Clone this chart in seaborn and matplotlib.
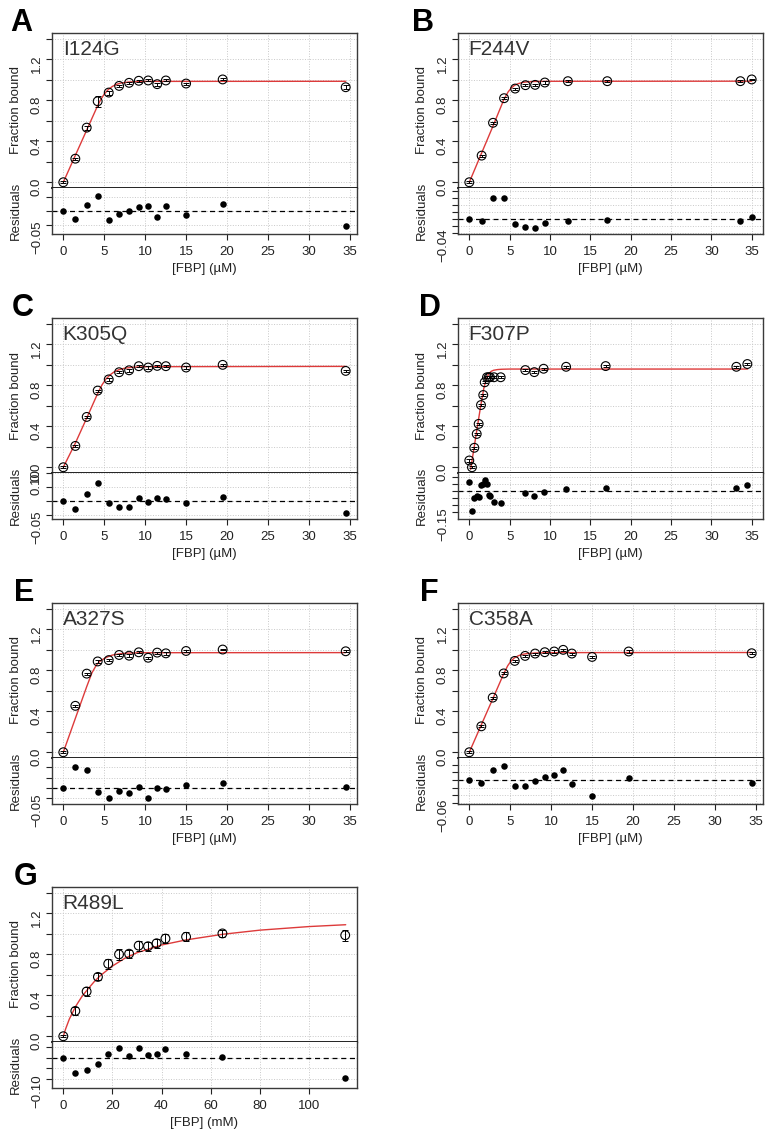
import matplotlib
matplotlib.use("Agg")
import matplotlib.pyplot as plt
import seaborn as sns
from matplotlib.ticker import MultipleLocator, FuncFormatter

# ---- values ---------------------------------------------------------------

# FBP dilution series shared by most of the uM titrations
conc_std = [0, 1.47, 2.86, 4.2, 5.55, 6.82, 8.04, 9.22, 10.37, 11.47, 12.53, 15.0, 19.47, 34.5]

# A  I124G
a_frac = [0, 0.23, 0.533, 0.79, 0.875, 0.94, 0.97, 0.99, 0.993, 0.957, 0.993, 0.963, 1.003, 0.927]
a_err = [0.008, 0.01, 0.02, 0.055, 0.02, 0.01, 0.01, 0.01, 0.01, 0.015, 0.01, 0.01, 0.01, 0.02]
a_resid = [0, -0.029, 0.023, 0.055, -0.031, -0.011, 0.001, 0.015, 0.018, -0.020, 0.017, -0.013, 0.024, -0.055]
a_fit_x = [0, 1.47, 2.86, 4.2, 4.6, 5.0, 5.5, 6.0, 6.5, 7.0, 8.0, 10.0, 34.5]
a_fit_y = [0, 0.262, 0.509, 0.748, 0.81, 0.86, 0.905, 0.935, 0.955, 0.967, 0.978, 0.984, 0.985]

# B  F244V
b_conc = [0, 1.53, 2.94, 4.31, 5.68, 6.96, 8.16, 9.36, 12.22, 17.1, 33.6, 35.0]
b_frac = [0, 0.26, 0.58, 0.82, 0.914, 0.947, 0.95, 0.973, 0.986, 0.986, 0.986, 1.003]
b_err = [0.008, 0.01, 0.01, 0.01, 0.01, 0.01, 0.01, 0.01, 0.01, 0.01, 0.01, 0.008]
b_resid = [0, -0.004, 0.061, 0.061, -0.014, -0.023, -0.027, -0.012, -0.005, -0.002, -0.005, 0.007]
b_fit_x = [0, 1.5, 3.0, 4.3, 4.8, 5.2, 5.6, 6.0, 6.5, 7.0, 8.0, 10.0, 35.0]
b_fit_y = [0, 0.28, 0.56, 0.81, 0.88, 0.92, 0.945, 0.96, 0.972, 0.978, 0.983, 0.985, 0.986]

# C  K305Q
c_frac = [0, 0.208, 0.491, 0.748, 0.857, 0.927, 0.946, 0.986, 0.973, 0.989, 0.986, 0.973, 0.999, 0.94]
c_err = [0.008, 0.012, 0.012, 0.01, 0.012, 0.01, 0.012, 0.01, 0.01, 0.01, 0.01, 0.01, 0.01, 0.012]
c_resid = [0, -0.027, 0.026, 0.067, -0.007, -0.020, -0.020, 0.011, -0.004, 0.013, 0.007, -0.007, 0.017, -0.042]
c_fit_x = [0, 1.47, 2.86, 4.2, 4.7, 5.2, 5.7, 6.2, 6.8, 7.5, 8.5, 10.0, 34.5]
c_fit_y = [0, 0.235, 0.48, 0.72, 0.8, 0.86, 0.9, 0.93, 0.952, 0.966, 0.976, 0.981, 0.984]

# D  F307P
d_conc = [0, 0.33, 0.62, 0.92, 1.16, 1.45, 1.73, 1.91, 2.19, 2.40, 2.56, 3.06, 3.89,
          6.94, 8.06, 9.21, 12.0, 16.9, 33.1, 34.46]
d_frac = [0.066, 0.0, 0.19, 0.325, 0.423, 0.607, 0.705, 0.829, 0.878, 0.878, 0.878, 0.878, 0.878,
          0.948, 0.928, 0.961, 0.98, 0.987, 0.98, 1.007]
d_err = [0.01, 0.01, 0.01, 0.01, 0.01, 0.01, 0.01, 0.01, 0.01, 0.01, 0.01, 0.01, 0.01,
         0.012, 0.01, 0.01, 0.01, 0.01, 0.01, 0.008]
d_resid = [0.066, -0.138, -0.048, -0.031, -0.038, 0.048, 0.055, 0.083, 0.052, -0.024, -0.034, -0.074, -0.081,
           -0.012, -0.036, -0.002, 0.019, 0.026, 0.021, 0.045]
d_fit_x = [0.17, 0.5, 1.0, 1.43, 1.8, 2.1, 2.4, 2.7, 3.0, 3.5, 4.0, 5.0, 34.5]
d_fit_y = [-0.02, 0.145, 0.395, 0.607, 0.77, 0.86, 0.91, 0.935, 0.946, 0.953, 0.956, 0.958, 0.958]

# E  A327S
e_frac = [0, 0.453, 0.767, 0.886, 0.899, 0.949, 0.942, 0.975, 0.922, 0.972, 0.965, 0.988, 1.002, 0.985]
e_err = [0.008, 0.012, 0.01, 0.012, 0.01, 0.01, 0.012, 0.01, 0.012, 0.01, 0.012, 0.01, 0.008, 0.01]
e_resid = [0, 0.10, 0.087, -0.018, -0.05, -0.013, -0.023, 0.005, -0.05, 0, -0.003, 0.013, 0.023, 0.005]
e_fit_x = [0, 1.47, 2.86, 3.5, 4.0, 4.4, 4.9, 5.4, 6.0, 7.0, 8.0, 10.0, 34.5]
e_fit_y = [0, 0.33, 0.64, 0.775, 0.845, 0.883, 0.91, 0.93, 0.948, 0.962, 0.968, 0.971, 0.972]

# F  C358A
f_frac = [0, 0.253, 0.533, 0.769, 0.891, 0.94, 0.963, 0.976, 0.983, 0.999, 0.963, 0.93, 0.983, 0.966]
f_err = [0.008, 0.01, 0.01, 0.01, 0.01, 0.01, 0.01, 0.01, 0.01, 0.01, 0.01, 0.01, 0.01, 0.01]
f_resid = [0, -0.007, 0.025, 0.037, -0.016, -0.016, -0.003, 0.007, 0.012, 0.025, -0.012, -0.042, 0.006, -0.008]
f_fit_x = [0, 1.47, 2.86, 4.2, 4.7, 5.1, 5.5, 6.0, 6.5, 7.0, 8.0, 10.0, 34.5]
f_fit_y = [0, 0.268, 0.52, 0.765, 0.845, 0.89, 0.92, 0.942, 0.955, 0.962, 0.968, 0.972, 0.973]

# G  R489L (mM)
g_conc = [0, 4.9, 9.5, 14.1, 18.3, 22.7, 26.8, 30.7, 34.5, 38.0, 41.6, 50.0, 64.8, 114.8]
g_frac = [0, 0.247, 0.437, 0.579, 0.707, 0.799, 0.805, 0.884, 0.878, 0.907, 0.953, 0.97, 1.003, 0.986]
g_err = [0.01, 0.035, 0.04, 0.035, 0.05, 0.055, 0.04, 0.05, 0.045, 0.045, 0.045, 0.045, 0.035, 0.055]
g_resid = [0, -0.071, -0.058, -0.031, 0.018, 0.048, 0.01, 0.047, 0.013, 0.019, 0.04, 0.016, 0.002, -0.098]
g_fit_x = [0, 1, 2.5, 5, 7.5, 10, 12.5, 15, 20, 25, 30, 40, 50, 65, 80, 100, 115]
g_fit_y = [0, 0.075, 0.17, 0.29, 0.385, 0.46, 0.53, 0.59, 0.685, 0.76, 0.815, 0.89, 0.94, 0.995,
           1.035, 1.07, 1.088]

panel_letters = ["A", "B", "C", "D", "E", "F", "G"]
mutants = ["I124G", "F244V", "K305Q", "F307P", "A327S", "C358A", "R489L"]
units = ["µM", "µM", "µM", "µM", "µM", "µM", "mM"]

# ---- layout ----------------------------------------------------------------
W, H = 776, 1129
RED = "#dd3a3a"
FRAME = "#3a3a3a"
TXT = "#222222"

sns.set_style("ticks")
plt.rcParams["font.family"] = ["Liberation Sans", "DejaVu Sans"]
plt.rcParams["axes.unicode_minus"] = False

panels = [
    dict(conc=conc_std, frac=a_frac, err=a_err, resid=a_resid, fx=a_fit_x, fy=a_fit_y,
         col=0, row=0, xlim=(-1.38, 35.88), xstep=5,
         rlim=(-0.082, 0.082), rstep=0.05, rlabels=[-0.05], lx=10),
    dict(conc=b_conc, frac=b_frac, err=b_err, resid=b_resid, fx=b_fit_x, fy=b_fit_y,
         col=1, row=0, xlim=(-1.4, 36.4), xstep=5,
         rlim=(-0.043, 0.090), rstep=0.02, rlabels=[-0.04], lx=412),
    dict(conc=conc_std, frac=c_frac, err=c_err, resid=c_resid, fx=c_fit_x, fy=c_fit_y,
         col=0, row=1, xlim=(-1.38, 35.88), xstep=5,
         rlim=(-0.063, 0.101), rstep=0.05, rlabels=[-0.05, 0.10], lx=12),
    dict(conc=d_conc, frac=d_frac, err=d_err, resid=d_resid, fx=d_fit_x, fy=d_fit_y,
         col=1, row=1, xlim=(-1.4, 36.4), xstep=5,
         rlim=(-0.198, 0.131), rstep=0.05, rlabels=[-0.15], lx=419),
    dict(conc=conc_std, frac=e_frac, err=e_err, resid=e_resid, fx=e_fit_x, fy=e_fit_y,
         col=0, row=2, xlim=(-1.38, 35.88), xstep=5,
         rlim=(-0.078, 0.145), rstep=0.05, rlabels=[-0.05], lx=14),
    dict(conc=conc_std, frac=f_frac, err=f_err, resid=f_resid, fx=f_fit_x, fy=f_fit_y,
         col=1, row=2, xlim=(-1.38, 35.88), xstep=5,
         rlim=(-0.063, 0.057), rstep=0.02, rlabels=[-0.06], lx=420),
    dict(conc=g_conc, frac=g_frac, err=g_err, resid=g_resid, fx=g_fit_x, fy=g_fit_y,
         col=0, row=3, xlim=(-4.6, 119.6), xstep=20,
         rlim=(-0.145, 0.076), rstep=0.05, rlabels=[-0.10], lx=14),
]

col_x = [52, 458]
row_top = [33, 318, 603, 887]
AX_W, MAIN_H, RES_H = 305, 155, 46

fig = plt.figure(figsize=(W / 100, H / 100), dpi=100)


def px_axes(x0, y0, w, h):
    return fig.add_axes([x0 / W, 1 - (y0 + h) / H, w / W, h / H])


def main_fmt(v, pos):
    k = int(round(v * 10))
    return f"{v:.1f}" if k % 4 == 0 else ""


def resid_fmt_for(shown):
    def f(v, pos):
        for s in shown:
            if abs(v - s) < 1e-6:
                return f"{s:.2f}".replace("-", "\u2212")
        return ""
    return f


for i, p in enumerate(panels):
    x0 = col_x[p["col"]]
    top = row_top[p["row"]]
    ax = px_axes(x0, top, AX_W, MAIN_H)
    rax = px_axes(x0, top + MAIN_H, AX_W, RES_H)

    # --- main binding plot
    ax.errorbar(p["conc"], p["frac"], yerr=p["err"], fmt="none", ecolor="black",
                elinewidth=0.7, capsize=2.3, capthick=0.7, zorder=3)
    sns.lineplot(x=p["fx"], y=p["fy"], ax=ax, color=RED, lw=1.0, sort=False,
                 estimator=None, zorder=2)
    sns.scatterplot(x=p["conc"], y=p["frac"], ax=ax, marker="o", s=40,
                    facecolor="none", edgecolor="black", linewidth=0.8, zorder=4)
    ax.set_xlim(*p["xlim"])
    ax.set_ylim(-0.056, 1.456)
    ax.xaxis.set_major_locator(MultipleLocator(p["xstep"]))
    ax.yaxis.set_major_locator(MultipleLocator(0.2))
    ax.yaxis.set_major_formatter(FuncFormatter(main_fmt))
    ax.tick_params(axis="x", bottom=False, labelbottom=False)
    ax.tick_params(axis="y", length=4, width=0.8, pad=2.5, labelsize=9.5,
                   labelrotation=90, colors=TXT)
    ax.grid(True, linestyle=":", color="#c8c8c8", lw=0.7)
    ax.set_axisbelow(True)
    for side in ["left", "right", "top"]:
        ax.spines[side].set_color(FRAME)
        ax.spines[side].set_linewidth(1.0)
    ax.spines["bottom"].set_color("#111111")
    ax.spines["bottom"].set_linewidth(1.3)
    ax.set_ylabel("Fraction bound", fontsize=9.5, color=TXT)
    ax.yaxis.set_label_coords(-0.098, 0.5)
    ax.set_xlabel("")
    ax.text(0.035, 0.955, mutants[i], transform=ax.transAxes, ha="left", va="top",
            fontsize=15, color="#333333")

    # --- residuals
    rax.axhline(0, color="black", lw=0.9, ls=(0, (4, 3)), zorder=2)
    sns.scatterplot(x=p["conc"], y=p["resid"], ax=rax, marker="o", s=22,
                    color="black", edgecolor="black", linewidth=0, zorder=3)
    rax.set_xlim(*p["xlim"])
    rax.set_ylim(*p["rlim"])
    rax.xaxis.set_major_locator(MultipleLocator(p["xstep"]))
    rax.yaxis.set_major_locator(MultipleLocator(p["rstep"]))
    rax.yaxis.set_major_formatter(FuncFormatter(resid_fmt_for(p["rlabels"])))
    rax.tick_params(axis="y", length=4, width=0.8, pad=2.5, labelsize=9.5,
                    labelrotation=90, colors=TXT)
    rax.tick_params(axis="x", length=4, width=0.8, pad=4.5, labelsize=9.5, colors=TXT)
    rax.grid(True, linestyle=":", color="#c8c8c8", lw=0.7)
    rax.set_axisbelow(True)
    rax.spines["top"].set_visible(False)
    for side in ["left", "right", "bottom"]:
        rax.spines[side].set_color(FRAME)
        rax.spines[side].set_linewidth(1.0)
    rax.set_ylabel("Residuals", fontsize=9.5, color=TXT)
    rax.yaxis.set_label_coords(-0.098, 0.5)
    rax.set_xlabel(f"[FBP] ({units[i]})", fontsize=9.5, color=TXT)
    rax.xaxis.set_label_coords(0.5, -0.64)

    fig.text(p["lx"] / W, 1 - (top - 2) / H, panel_letters[i], fontsize=22,
             fontweight="bold", color="black", ha="left", va="baseline")

fig.savefig("out.png", dpi=100)
